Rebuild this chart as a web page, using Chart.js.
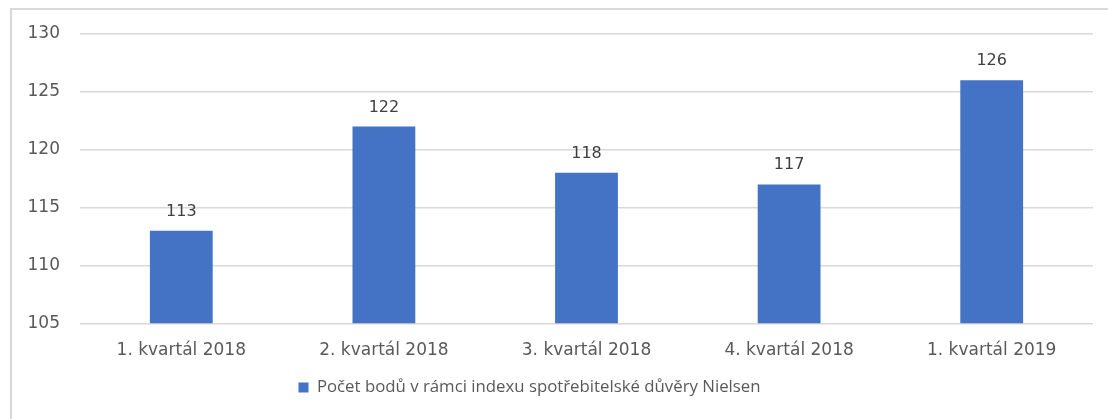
<!DOCTYPE html>
<html>
<head>
<meta charset="utf-8">
<script src="https://cdn.jsdelivr.net/npm/chart.js@4"></script>
<style>
    body { margin: 0; background: #ffffff; }
    #wrap { width: 1108px; height: 419px; }
</style>
</head>
<body>
<div id="wrap"><canvas id="chart" width="1108" height="419"></canvas></div>
<script>
// Chart data
const quarters = ["1. kvartál 2018", "2. kvartál 2018", "3. kvartál 2018", "4. kvartál 2018", "1. kvartál 2019"];
const nielsenPoints = [113, 122, 118, 117, 126];
const seriesName = "Počet bodů v rámci indexu spotřebitelské důvěry Nielsen";
const yMin = 105;
const yMax = 130;
const yStep = 5;

const axisFont = "'DejaVu Sans', sans-serif";
const legendFont = "'Open Sans', 'Liberation Sans', sans-serif";

// Draws the light frame (top and left edges, the rest is cut off)
const framePlugin = {
    id: 'frame',
    beforeDraw(chart) {
        const ctx = chart.ctx;
        ctx.save();
        ctx.strokeStyle = '#d9d9d9';
        ctx.lineWidth = 2;
        ctx.beginPath();
        ctx.moveTo(chart.width, 9);
        ctx.lineTo(11, 9);
        ctx.lineTo(11, chart.height);
        ctx.stroke();
        ctx.restore();
    }
};

// Moves the legend a bit to the left, like in the original
const legendShiftPlugin = {
    id: 'legendShift',
    afterLayout(chart) {
        if (chart.legend) {
            chart.legend.left -= 17;
            chart.legend.right -= 17;
        }
    }
};

// Writes the value above every bar
const valueLabelPlugin = {
    id: 'valueLabels',
    afterDatasetsDraw(chart) {
        const ctx = chart.ctx;
        const meta = chart.getDatasetMeta(0);
        ctx.save();
        ctx.fillStyle = '#404040';
        ctx.font = `16px ${axisFont}`;
        ctx.textAlign = 'center';
        ctx.textBaseline = 'alphabetic';
        meta.data.forEach((bar, i) => {
            ctx.fillText(String(nielsenPoints[i]), bar.x, bar.y - 15);
        });
        ctx.restore();
    }
};

new Chart(document.getElementById('chart').getContext('2d'), {
    type: 'bar',
    data: {
        labels: quarters,
        datasets: [{
            label: seriesName,
            data: nielsenPoints,
            backgroundColor: '#4472c4',
            borderWidth: 0,
            barPercentage: 0.62,
            categoryPercentage: 0.5
        }]
    },
    options: {
        responsive: false,
        animation: false,
        layout: {
            padding: { left: 0, right: 15, top: 34, bottom: 13 }
        },
        scales: {
            x: {
                grid: { display: false, drawTicks: false },
                border: { display: false },
                ticks: {
                    color: '#595959',
                    font: { family: axisFont, size: 17 },
                    padding: 17,
                    maxRotation: 0
                }
            },
            y: {
                min: yMin,
                max: yMax,
                afterFit(axis) { axis.width = 80; },
                grid: { color: '#d9d9d9', lineWidth: 1.5, drawTicks: false },
                border: { display: false },
                ticks: {
                    stepSize: yStep,
                    color: '#595959',
                    font: { family: axisFont, size: 17 },
                    padding: 20
                }
            }
        },
        plugins: {
            legend: {
                position: 'bottom',
                labels: {
                    color: '#595959',
                    font: { family: legendFont, size: 16.8 },
                    boxWidth: 10,
                    boxHeight: 10,
                    padding: 1.5
                }
            },
            tooltip: { enabled: false }
        }
    },
    plugins: [framePlugin, legendShiftPlugin, valueLabelPlugin]
});
</script>
</body>
</html>
